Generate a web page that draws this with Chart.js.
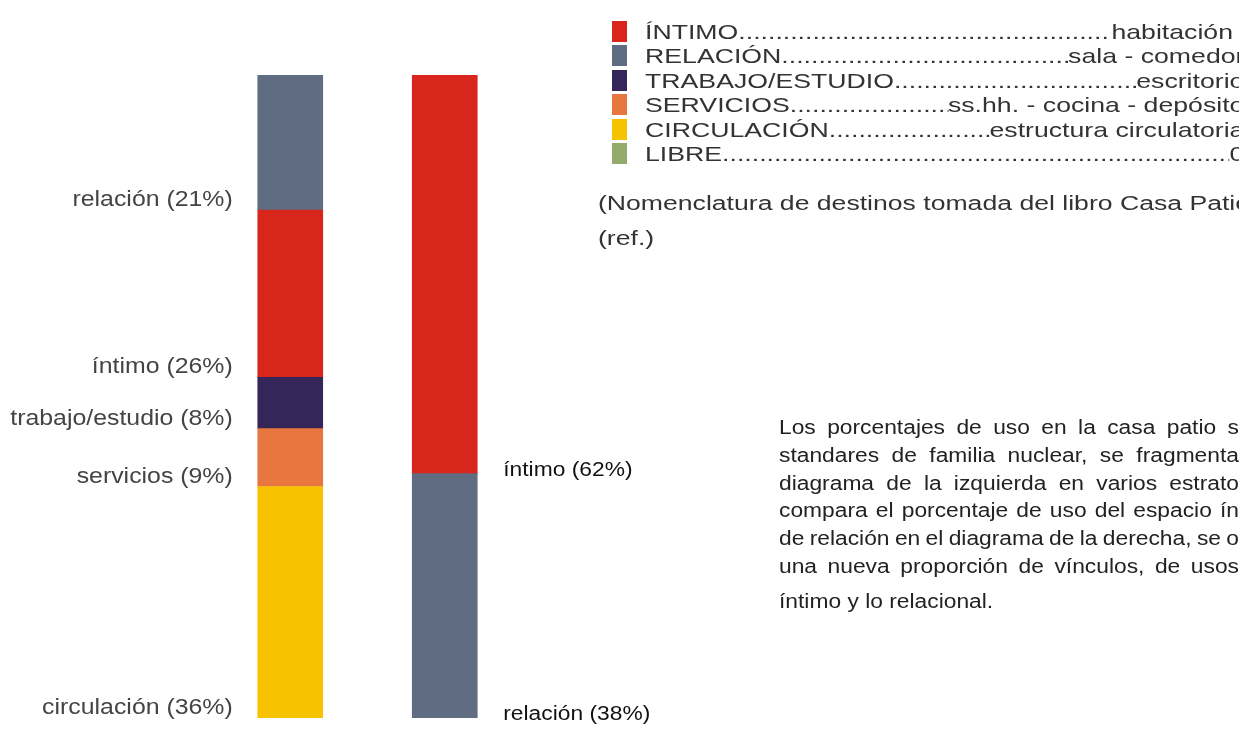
<!DOCTYPE html>
<html lang="es">
<head>
<meta charset="utf-8">
<script src="https://cdn.jsdelivr.net/npm/chart.js@4.4.1/dist/chart.umd.min.js"></script>
<style>
  html, body { margin: 0; padding: 0; background: #fff; overflow: hidden; }
  #wrap { position: relative; width: 1239px; height: 731px; overflow: hidden; }
  #chart { position: absolute; left: 0; top: 0; }
  .legend { position: absolute; left: 612px; top: 19px; font-family: "Liberation Sans", Arial, sans-serif; font-size: 21px; color: #333; }
  .row { display: flex; align-items: center; height: 24.5px; }
  .sw { width: 15px; height: 21px; flex: none; margin-right: 18px; }
  .txt { display: flex; width: 472px; white-space: nowrap; line-height: 21px; transform: scaleX(1.27); transform-origin: 0 50%; }
  .row:first-child .txt { padding-right: 9px; box-sizing: border-box; }
  .dots { flex: 1; min-width: 0; overflow: hidden; }
  .note { position: absolute; left: 598px; top: 186px; font-family: "Liberation Sans", Arial, sans-serif; font-size: 20px; color: #333; line-height: 35px; white-space: nowrap; transform: scaleX(1.33); transform-origin: 0 0; }
  .para { position: absolute; left: 779px; top: 414px; font-family: "Liberation Sans", Arial, sans-serif; font-size: 20px; color: #222; transform: scaleX(1.14); transform-origin: 0 0; }
  .para div { height: 27.8px; line-height: 27.8px; white-space: nowrap; }
  .para div:last-child { margin-top: 7px; }
  .para span { display: inline-block; }
</style>
</head>
<body>
<div id="wrap">
  <canvas id="chart" width="1239" height="731"></canvas>
  <div class="legend" id="legend"></div>
  <div class="note">(Nomenclatura de destinos tomada del libro Casa Patio<br>(ref.)</div>
  <div class="para" id="para"></div>
</div>
<script>
// === DATOS ===
const categories = ['estratos de uso', 'íntimo / relación'];
const circulacion = [36, null];
const relacionDer = [null, 38];
const servicios = [9, null];
const trabajo = [8, null];
const intimo = [26, 62];
const relacionIzq = [21, null];

const seriesNames = ['circulación', 'relación', 'servicios', 'trabajo/estudio', 'íntimo', 'relación'];
const seriesColors = ['#f7c300', '#5f6c82', '#e8773f', '#35265a', '#d9261c', '#5f6c82'];

const legendLabels = ['ÍNTIMO', 'RELACIÓN ', 'TRABAJO/ESTUDIO', 'SERVICIOS', 'CIRCULACIÓN', 'LIBRE'];
const legendUses = ['habitación', 'sala - comedor', 'escritorio', 'ss.hh. - cocina - depósito', 'estructura circulatoria', '0'];
const legendColors = ['#d9261c', '#5f6c82', '#35265a', '#e8773f', '#f7c300', '#93ab6a'];

const paraLines = [
  'Los porcentajes de uso en la casa patio s',
  'standares de familia nuclear, se fragmenta',
  'diagrama de la izquierda en varios estrato',
  'compara el porcentaje de uso del espacio ín',
  'de relación en el diagrama de la derecha, se o',
  'una nueva proporción de vínculos, de usos',
  'íntimo y lo relacional.'
];

// === LEYENDA ===
const legend = document.getElementById('legend');
legendLabels.forEach((lab, i) => {
  const row = document.createElement('div');
  row.className = 'row';
  row.innerHTML = `<div class="sw" style="background:${legendColors[i]}"></div>` +
    `<div class="txt"><span>${lab}</span><span class="dots">${'.'.repeat(120)}</span><span>${legendUses[i]}</span></div>`;
  legend.appendChild(row);
});

// === TEXTO JUSTIFICADO ===
const para = document.getElementById('para');
const lineWidth = 460 / 1.14;
paraLines.forEach((l, i) => {
  const d = document.createElement('div');
  const s = document.createElement('span');
  s.textContent = l;
  d.appendChild(s);
  para.appendChild(d);
  if (i < paraLines.length - 1) {
    const gaps = l.split(' ').length - 1;
    const extra = (lineWidth - s.getBoundingClientRect().width / 1.14) / gaps;
    s.style.wordSpacing = extra + 'px';
  }
});

// === ETIQUETAS DE BARRAS ===
const barLabels = {
  id: 'barLabels',
  afterDatasetsDraw(chart) {
    const ctx = chart.ctx;
    chart.data.datasets.forEach((ds, di) => {
      const meta = chart.getDatasetMeta(di);
      meta.data.forEach((bar, i) => {
        const v = ds.data[i];
        if (v == null) return;
        const txt = `${seriesNames[di]} (${v}%)`;
        const half = bar.width / 2;
        ctx.save();
        if (i === 0) {
          ctx.font = '22px "Liberation Sans", Arial, sans-serif';
          ctx.fillStyle = '#444';
          ctx.textAlign = 'right';
          ctx.translate(bar.x - half - 25, bar.base - 4);
          ctx.scale(1.13, 1);
        } else {
          ctx.font = '20px "Liberation Sans", Arial, sans-serif';
          ctx.fillStyle = '#111';
          ctx.textAlign = 'left';
          ctx.translate(bar.x + half + 26, bar.base + 2);
          ctx.scale(1.14, 1);
        }
        ctx.fillText(txt, 0, 0);
        ctx.restore();
      });
    });
  }
};

const seriesData = [circulacion, relacionDer, servicios, trabajo, intimo, relacionIzq];

new Chart(document.getElementById('chart'), {
  type: 'bar',
  data: {
    labels: categories,
    datasets: seriesData.map((d, i) => ({
      label: seriesNames[i],
      data: d,
      backgroundColor: seriesColors[i],
      borderWidth: 0,
      barThickness: 65
    }))
  },
  options: {
    responsive: false,
    animation: false,
    layout: { padding: { left: 213, right: 717, top: 75, bottom: 13 } },
    plugins: { legend: { display: false }, tooltip: { enabled: false } },
    scales: {
      x: { stacked: true, display: false },
      y: { stacked: true, display: false, min: 0, max: 100 }
    }
  },
  plugins: [barLabels]
});
</script>
</body>
</html>
